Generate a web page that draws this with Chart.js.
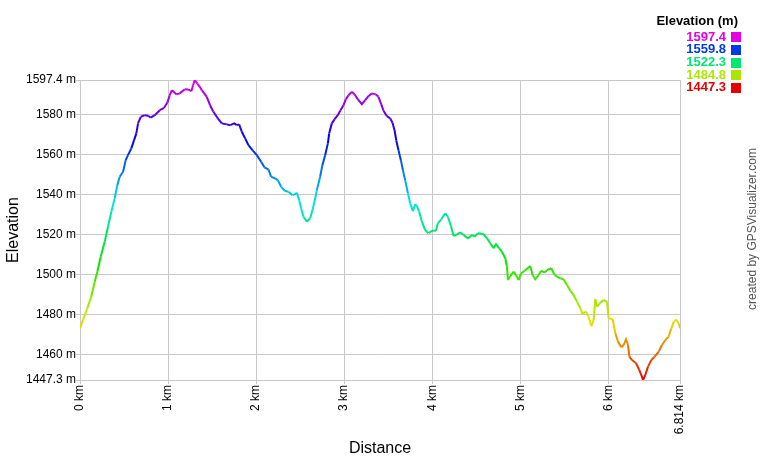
<!DOCTYPE html>
<html>
<head>
<meta charset="utf-8">
<script src="https://cdn.jsdelivr.net/npm/chart.js@4"></script>
<style>
html,body{margin:0;padding:0;background:#fff;}
#c{display:block;}
</style>
</head>
<body>
<canvas id="c" width="760" height="460" style="width:760px;height:460px"></canvas>
<script>
const distanceKm = [0,0.034,0.083,0.128,0.167,0.197,0.235,0.281,0.318,0.356,0.394,0.424,0.451,0.489,0.519,0.545,0.583,0.614,0.640,0.659,0.690,0.735,0.773,0.803,0.849,0.906,0.955,0.992,1.019,1.045,1.094,1.133,1.190,1.227,1.265,1.284,1.303,1.333,1.360,
1.383,1.440,1.477,1.515,1.565,1.610,1.667,1.705,1.753,1.781,1.807,1.838,1.875,1.913,1.958,2.008,2.057,2.094,2.140,2.170,2.216,2.247,2.284,2.322,2.367,2.413,2.443,2.463,2.489,2.511,2.538,2.576,2.614,2.640,2.663,2.690,
2.727,2.753,2.784,2.815,2.830,2.860,2.890,2.928,2.955,2.992,3.019,3.049,3.088,3.117,3.163,3.201,3.239,3.276,3.315,3.360,3.390,3.420,3.447,3.485,3.523,3.549,3.572,3.591,3.617,3.644,3.667,3.693,3.724,3.750,3.781,3.807,3.826,3.852,3.883,3.920,3.958,3.997,4.042,
4.065,4.102,4.148,4.178,4.216,4.242,4.281,4.318,4.356,4.406,4.451,4.481,4.519,4.583,4.622,4.659,4.697,4.724,4.761,4.792,4.830,4.849,4.860,4.886,4.924,4.951,4.981,5.011,5.049,5.114,5.140,5.170,5.208,5.239,5.276,5.303,5.352,5.390,5.455,
5.492,5.531,5.568,5.606,5.644,5.682,5.708,5.747,5.776,5.807,5.833,5.852,5.872,5.909,5.947,5.985,6.003,6.049,6.080,6.110,6.148,6.174,6.201,6.224,6.239,6.269,6.315,6.352,6.375,6.394,6.420,6.451,6.489,6.526,6.572,6.610,6.648,6.685,6.716,6.742,6.769,6.799,6.814];
const elevationM = [1473.2,1477.3,1483.2,1489.0,1496.5,1501.5,1509.0,1516.5,1524.0,1531.5,1538.2,1544.8,1549.0,1551.5,1557.3,1559.8,1563.2,1567.3,1570.7,1575.7,1579.0,1579.8,1579.5,1578.6,1579.8,1582.3,1583.5,1586.1,1589.8,1592.3,1590.2,1590.7,1592.8,1592.7,1591.8,1594.8,1597.4,1595.6,1594.0,
1592.3,1589.0,1584.8,1581.5,1578.2,1575.7,1575.2,1574.8,1575.7,1574.8,1575.2,1571.5,1568.2,1564.8,1562.3,1559.8,1556.5,1553.7,1552.7,1549.0,1548.2,1547.3,1544.0,1542.0,1541.5,1539.8,1540.3,1541.0,1537.3,1533.2,1529.0,1526.5,1528.2,1532.3,1536.5,1542.3,
1549.0,1554.8,1559.8,1565.7,1570.7,1575.7,1577.7,1579.8,1582.0,1584.8,1587.7,1589.8,1591.5,1590.3,1587.3,1585.3,1587.3,1589.3,1590.7,1590.2,1589.0,1585.3,1582.0,1579.3,1578.2,1576.0,1572.3,1567.3,1562.3,1557.3,1552.3,1547.3,1540.7,1535.7,1531.8,1535.3,1534.3,1531.5,1526.5,1522.3,1520.7,1522.0,1522.0,
1525.7,1527.7,1530.7,1529.0,1524.0,1519.3,1520.2,1521.2,1519.8,1518.2,1519.8,1519.0,1520.7,1520.3,1518.2,1515.7,1513.2,1515.2,1513.2,1511.5,1508.2,1504.0,1497.3,1499.3,1501.5,1499.8,1497.3,1500.7,1502.0,1504.3,1499.8,1497.7,1499.8,1502.0,1501.0,1502.3,1503.2,1499.8,1498.2,
1497.7,1494.8,1492.0,1489.8,1486.5,1483.2,1480.3,1481.5,1479.0,1474.3,1477.3,1487.7,1484.0,1486.0,1487.3,1486.5,1478.2,1477.7,1470.7,1466.5,1463.7,1464.8,1467.7,1464.8,1459.0,1457.3,1455.7,1452.3,1449.8,1447.3,1449.8,1454.0,1457.3,1459.0,1461.5,1464.8,1467.3,1469.0,1473.2,1476.4,1477.6,1475.6,1473.2];

const xTickValues = [0,1,2,3,4,5,6,6.814];
const xTickLabels = ['0 km','1 km','2 km','3 km','4 km','5 km','6 km','6.814 km'];
const yTickValues = [1447.3,1460,1480,1500,1520,1540,1560,1580,1597.4];
const yTickLabels = ['1447.3 m','1460 m','1480 m','1500 m','1520 m','1540 m','1560 m','1580 m','1597.4 m'];
const legendTitle = 'Elevation (m)';
const legendValues = [1597.4,1559.8,1522.3,1484.8,1447.3];
const legendLabels = ['1597.4','1559.8','1522.3','1484.8','1447.3'];
const creditText = 'created by GPSVisualizer.com';

const ELEV_MIN = 1447.3, ELEV_MAX = 1597.4;
function elevColor(v){
  const t = Math.max(0, Math.min(1, (v - ELEV_MIN) / (ELEV_MAX - ELEV_MIN)));
  return 'hsl(' + (300 * t).toFixed(1) + ',100%,45%)';
}

const points = distanceKm.map((d, i) => ({x: d, y: elevationM[i]}));
const FONT = '"Liberation Sans", Arial, sans-serif';
const GRID = '#c8c8c8';

const extras = {
  id: 'extras',
  afterDraw(chart){
    const ctx = chart.ctx;
    ctx.save();
    ctx.textBaseline = 'middle';
    ctx.textAlign = 'right';
    ctx.font = 'bold 13px ' + FONT;
    ctx.fillStyle = '#000';
    ctx.fillText(legendTitle, 738, 21);
    legendValues.forEach((v, i) => {
      const y = 37.3 + i * 12.6;
      const c = elevColor(v);
      ctx.fillStyle = c;
      ctx.fillText(legendLabels[i], 726, y);
      ctx.fillRect(731, Math.round(y - 5), 10, 10);
    });
    ctx.translate(753, 229);
    ctx.rotate(-Math.PI / 2);
    ctx.textAlign = 'center';
    ctx.font = '12px ' + FONT;
    ctx.fillStyle = '#555';
    ctx.fillText(creditText, 0, 0);
    ctx.restore();
  }
};

new Chart(document.getElementById('c'), {
  type: 'line',
  data: {
    datasets: [{
      data: points,
      borderWidth: 2,
      pointRadius: 0,
      tension: 0,
      fill: false,
      segment: {
        borderColor: ctx => elevColor((ctx.p0.parsed.y + ctx.p1.parsed.y) / 2)
      },
      borderColor: elevColor(1520)
    }]
  },
  options: {
    responsive: false,
    animation: false,
    devicePixelRatio: 1,
    layout: {padding: {left: 0, right: 80, top: 80, bottom: 0}},
    plugins: {legend: {display: false}, tooltip: {enabled: false}},
    scales: {
      x: {
        type: 'linear',
        min: 0,
        max: 6.814,
        afterBuildTicks: s => { s.ticks = xTickValues.map(v => ({value: v})); },
        afterFit: s => { s.height = 80; },
        ticks: {
          autoSkip: false,
          minRotation: 90,
          maxRotation: 90,
          padding: 1,
          color: '#000',
          font: {family: FONT, size: 12},
          callback: (v, i) => xTickLabels[i]
        },
        grid: {color: GRID, tickLength: 4},
        border: {color: GRID},
        title: {display: true, text: 'Distance', color: '#000', font: {family: FONT, size: 16}, padding: {top: 0, bottom: 2}}
      },
      y: {
        type: 'linear',
        min: ELEV_MIN,
        max: ELEV_MAX,
        afterBuildTicks: s => { s.ticks = yTickValues.map(v => ({value: v})); },
        afterFit: s => { s.width = 80; },
        ticks: {
          autoSkip: false,
          padding: 0,
          color: '#000',
          font: {family: FONT, size: 12},
          callback: (v, i) => yTickLabels[i]
        },
        grid: {color: GRID, tickLength: 4},
        border: {color: GRID},
        title: {display: true, text: 'Elevation', color: '#000', font: {family: FONT, size: 16}, padding: {top: 4, bottom: 0}}
      }
    }
  },
  plugins: [extras]
});
</script>
</body>
</html>
